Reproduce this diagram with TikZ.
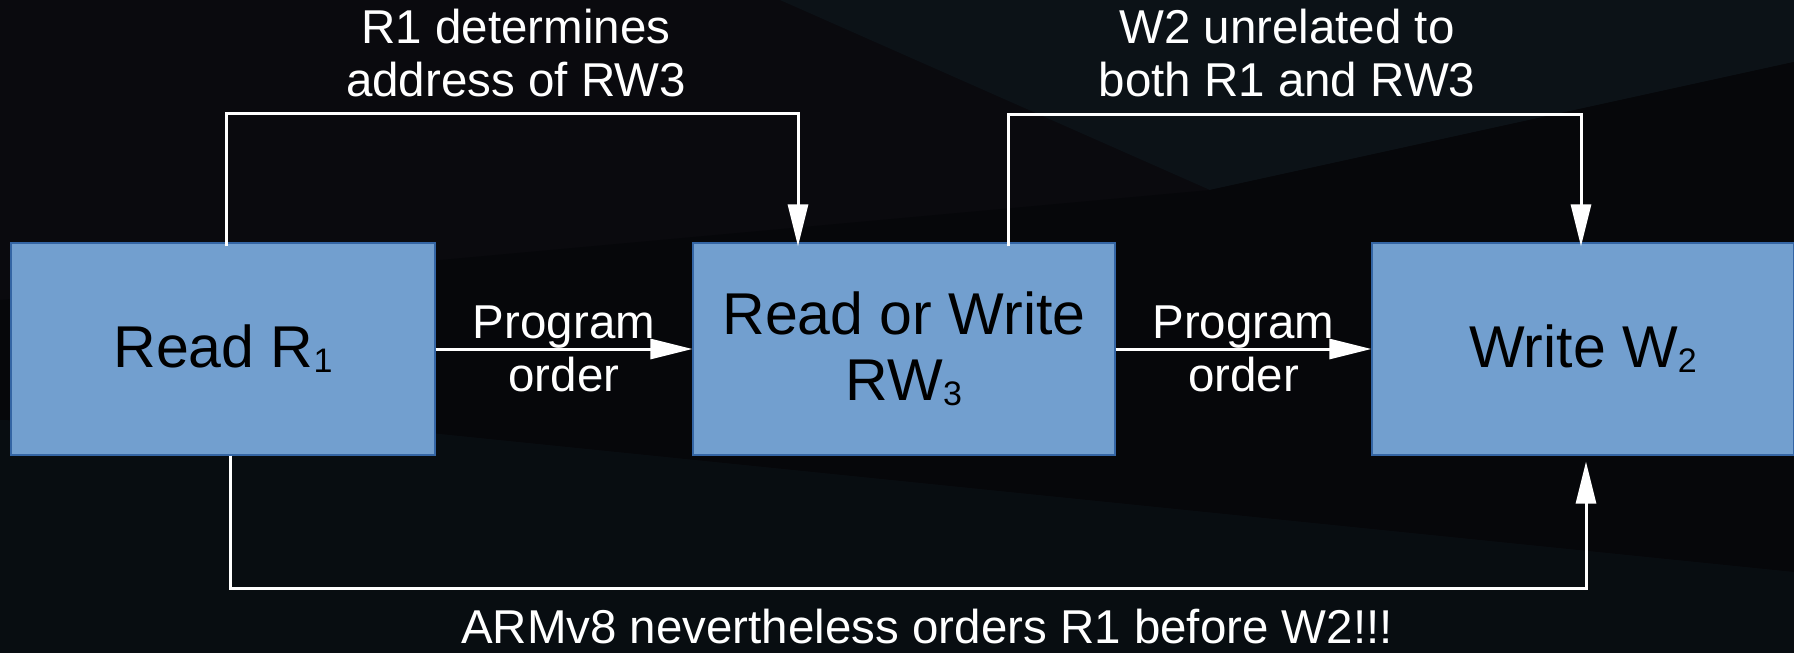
\documentclass[tikz,border=0pt]{standalone}
\usepackage{fontspec}
\setmainfont{Liberation Sans}
\usetikzlibrary{arrows.meta}

\definecolor{bgbase}{HTML}{0A0A0E}
\definecolor{bgupper}{HTML}{0C1217}
\definecolor{bglower}{HTML}{080D11}
\definecolor{bgband}{HTML}{06070A}
\definecolor{boxfill}{HTML}{729FCF}
\definecolor{boxline}{HTML}{3465A4}

% small lowered index digit
\newcommand{\idx}[1]{\raisebox{-5pt}{\fontsize{34}{34}\selectfont #1}}

\tikzset{
  opbox/.style={draw=boxline, line width=1.2pt, fill=boxfill,
    minimum width=422pt, minimum height=212pt, inner sep=0pt,
    align=center, text=black, font=\fontsize{59}{66}\selectfont},
  flow/.style={draw=white, line width=3pt,
    -{Triangle[length=42pt,width=20pt]}},
  caption/.style={text=white, align=center, inner sep=0pt,
    font=\fontsize{47.5}{53}\selectfont},
}

\begin{document}
\begin{tikzpicture}[x=1pt,y=-1pt]
\useasboundingbox (0,0) rectangle (1794,653);

% dark faceted backdrop
\fill[bgbase] (0,0) rectangle (1794,653);
\fill[bgupper] (780,0) -- (1210,190) -- (1794,62) -- (1794,0) -- cycle;
\fill[bgband] (0,300) -- (1210,190) -- (1794,62) -- (1794,572) -- (430,433) -- (0,420) -- cycle;
\fill[bglower] (0,420) -- (430,433) -- (1794,572) -- (1794,653) -- (0,653) -- cycle;

% operations
\node[opbox, minimum width=424pt] (r1) at (223,349) {Read R\idx{1}};
\node[opbox] (rw3) at (904,349) {Read or Write\\RW\idx{3}};
\node[opbox] (w2) at (1583,349) {Write W\idx{2}};

% program order
\draw[flow] (r1) -- node[caption] (po1) {Program\\order} (rw3);
\draw[flow] (rw3) -- node[caption] (po2) {Program\\order} (w2);

% address dependency
\coordinate (c1) at (512,113);
\draw[flow] ([xshift=3pt,yshift=-4pt]r1.north) |- (c1) -| ([xshift=-106pt,yshift=-4pt]rw3.north);
\node[caption] (lab1) at (516,53) {R1 determines\\address of RW3};

% unrelated write
\coordinate (c2) at (1294,114);
\draw[flow] ([xshift=104pt,yshift=-4pt]rw3.north) |- (c2) -| ([xshift=-2pt,yshift=-4pt]w2.north);
\node[caption] (lab2) at (1287,53) {W2 unrelated to\\both R1 and RW3};

% resulting order
\coordinate (c3) at (908,588);
\draw[flow] ([xshift=7pt]r1.south) |- (c3) -| ([xshift=3pt,yshift=-6pt]w2.south);
\node[caption] (lab3) at (927,627) {ARMv8 nevertheless orders R1 before W2!!!};
\end{tikzpicture}
\end{document}
